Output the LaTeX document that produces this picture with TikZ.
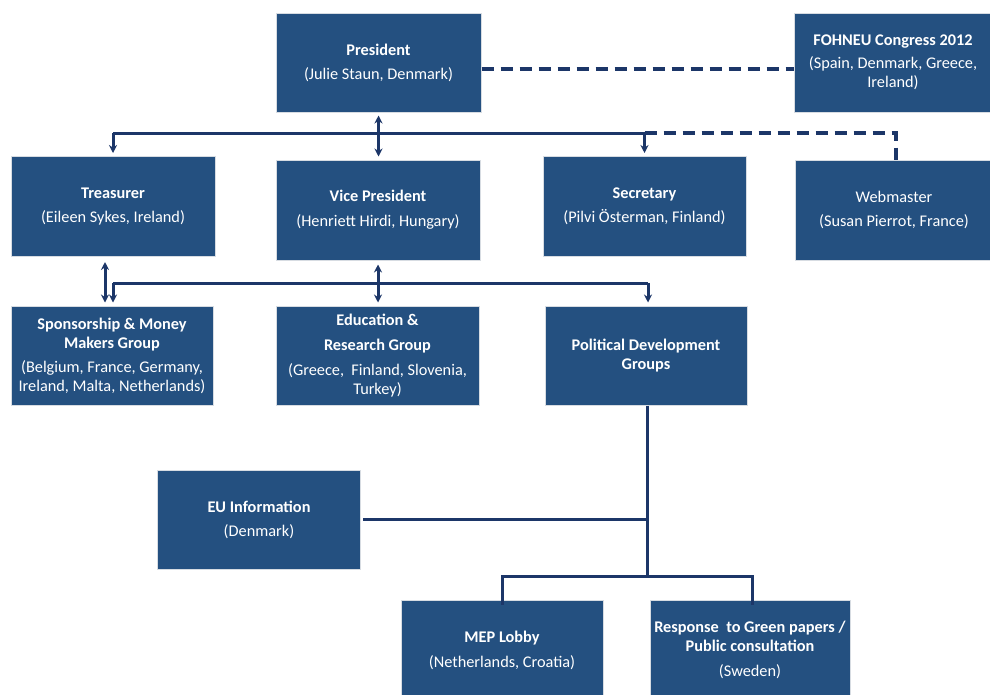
\documentclass[tikz,border=0pt]{standalone}
\usepackage{fontspec}
\setmainfont{Carlito}
\usetikzlibrary{arrows.meta}
\definecolor{boxblue}{RGB}{36,80,128}
\definecolor{boxedge}{RGB}{215,220,226}
\definecolor{linenavy}{RGB}{28,54,104}
\newcommand\orgfs{\fontsize{16.3}{19}\selectfont}
\tikzset{
  orgbox/.style={rectangle, fill=boxblue, draw=boxedge, line width=1pt, inner sep=0pt,
    text=white, align=center, font=\orgfs},
  conn/.style={draw=linenavy, line width=3pt},
  dashconn/.style={draw=linenavy, line width=3.2pt, dash pattern=on 12pt off 7pt},
  tip/.style={-{Stealth[length=8pt,width=8pt]}},
  bitip/.style={{Stealth[length=8pt,width=8pt]}-{Stealth[length=8pt,width=8pt]}},
}
\begin{document}
\begin{tikzpicture}[x=1pt,y=-1pt]
\useasboundingbox (0,0) rectangle (990,694);
\clip (0,0) rectangle (990,694);
\fill[white] (0,0) rectangle (990,694);

% boxes
\node[orgbox, minimum width=205, minimum height=99] (pres) at (378.5,62.5)
  {\textbf{President}\\[5pt](Julie Staun, Denmark)};
\node[orgbox, minimum width=198, minimum height=99] (foh) at (893,62.5)
  {\textbf{FOHNEU Congress 2012}\\[4pt](Spain, Denmark, Greece,\\Ireland)};
\node[orgbox, minimum width=204, minimum height=100] (treas) at (113,206.5)
  {\textbf{Treasurer}\\[5pt](Eileen Sykes, Ireland)};
\node[orgbox, minimum width=204, minimum height=100] (vp) at (378,210)
  {\textbf{Vice President}\\[6pt](Henriett Hirdi, Hungary)};
\node[orgbox, minimum width=203, minimum height=100] (sec) at (644.5,206.5)
  {\textbf{Secretary}\\[5pt](Pilvi Österman, Finland)};
\node[orgbox, minimum width=198, minimum height=100] (web) at (894,210)
  {Webmaster\\[5pt](Susan Pierrot, France)};
\node[orgbox, minimum width=202, minimum height=99] (spons) at (112,355.5)
  {\textbf{Sponsorship \& Money}\\\textbf{Makers Group}\\[5pt](Belgium, France, Germany,\\Ireland, Malta, Netherlands)};
\node[orgbox, minimum width=203, minimum height=99] (edu) at (377.5,355.5)
  {\textbf{Education \&}\\[6pt]\textbf{Research Group}\\[6pt](Greece,\ \ Finland, Slovenia,\\Turkey)};
\node[orgbox, minimum width=202, minimum height=99] (pol) at (646,355.5)
  {\textbf{Political Development}\\\textbf{Groups}};
\node[orgbox, minimum width=203, minimum height=99] (eu) at (259,519.5)
  {\textbf{EU Information}\\[5pt](Denmark)};
\node[orgbox, minimum width=202, minimum height=100] (mep) at (502,650)
  {\textbf{MEP Lobby}\\[6pt](Netherlands, Croatia)};
\node[orgbox, minimum width=200, minimum height=100] (resp) at (750,650)
  {\textbf{Response\ \ to Green papers /}\\\textbf{Public consultation}\\[6pt](Sweden)};

% helper coordinates
\coordinate (busA) at (0,133);
\coordinate (busB) at (0,283);
\coordinate (busD) at (0,576);

% president -- congress
\draw[dashconn] ([yshift=-6.5pt]pres.east) -- ([yshift=-6.5pt]foh.west);

% first level
\draw[conn] (busA -| treas.north) -- (busA -| sec.north);
\draw[conn, tip, shorten >=3pt] (busA -| treas.north) -- (treas.north);
\draw[conn, tip, shorten >=3pt] (busA -| sec.north) -- (sec.north);
\draw[conn, bitip, shorten <=3pt, shorten >=3pt] (pres.south) -- (pres.south |- vp.north);
\draw[dashconn] (busA -| sec.north) -| ([xshift=2pt]web.north);

% second level
\draw[conn] ([xshift=1pt]busB -| spons.north) -- ([xshift=2pt]busB -| pol.north);
\draw[conn, tip, shorten >=3pt] ([xshift=1pt]busB -| spons.north) -- ([xshift=1pt]spons.north);
\draw[conn, tip, shorten >=3pt] ([xshift=2pt]busB -| pol.north) -- ([xshift=2pt]pol.north);
\draw[conn, bitip, shorten <=4pt, shorten >=3pt] (vp.south) -- (vp.south |- edu.north);
\draw[conn, bitip, shorten <=5pt, shorten >=3pt] ([xshift=-8pt]treas.south) -- ([xshift=-7pt]spons.north);

% political development branch
\draw[conn] ([xshift=1pt]pol.south) -- ([xshift=1pt]busD -| pol.south);
\draw[conn, shorten <=2pt] (eu.east) -- ([xshift=1pt]eu.east -| pol.south);
\draw[conn] ([yshift=-5pt]mep.north) |- ([xshift=1pt]busD -| pol.south) -| ([xshift=2pt,yshift=-5pt]resp.north);
\end{tikzpicture}
\end{document}
